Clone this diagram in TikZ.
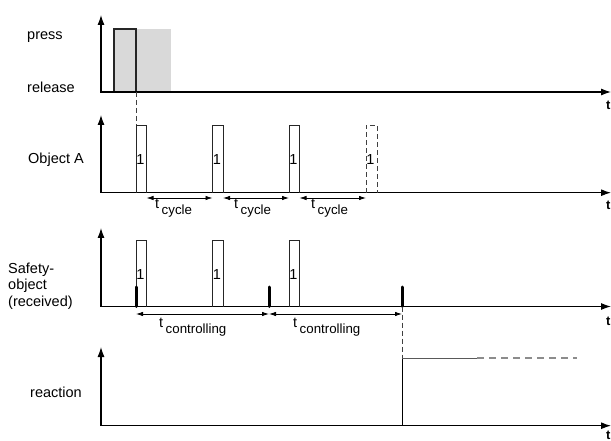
\documentclass[tikz,border=0pt]{standalone}
\usepackage{fontspec}
\setmainfont{Liberation Sans}
\usetikzlibrary{arrows.meta}

\newcommand{\tsub}[1]{t\hspace{2.5pt}\raisebox{-6pt}{\fontsize{13.3}{13.3}\selectfont #1}}

\begin{document}
\begin{tikzpicture}[x=1pt,y=-1pt,>={Latex[length=10pt,width=7pt]},
  font=\fontsize{14.5}{16.7}\selectfont,
  axis/.style={<->,line width=1.1pt},
  pulse/.style={draw=black!85,line width=0.9pt},
  ghost/.style={draw=black!75,line width=0.9pt,dash pattern=on 5pt off 3pt},
  span/.style={{Latex[length=7pt,width=4.5pt]}-{Latex[length=7pt,width=4.5pt]},line width=0.8pt},
  spike/.style={line width=3pt,line cap=round},
  digit/.style={inner sep=0pt},
  lbl/.style={inner sep=0pt,anchor=base west},
  tmark/.style={inner sep=0pt,anchor=west,font=\bfseries\fontsize{13}{13}\selectfont}]
\useasboundingbox (0,0) rectangle (611,441);

% press / release
\fill[black!15] (114,29) rectangle (171,92);
\draw[line width=1.8pt,black!85] (114,92) -- (114,29) -- (136,29) -- (136,92);
\coordinate (y1) at (101,15);
\coordinate (x1) at (611,92);
\draw[axis] (y1) |- (x1);
\node[lbl] (press) at (27,40) {press};
\node[lbl] (release) at (27,93) {release};
\node[tmark] (t1) at (606,105) {t};
\draw[ghost] (136,92) -- (136,125);

% object A
\coordinate (y2) at (101,115);
\coordinate (x2) at (611,192.7);
\draw[axis] (y2) |- (x2);
\node[lbl] (objA) at (28,164) {Object A};
\node[tmark] (t2) at (606,205) {t};
\foreach \x/\n in {136/a1,212.5/a2,289/a3} {
  \draw[pulse] (\x,192.7) -- (\x,125) -- ++(10.5,0) -- ++(0,67.7);
  \node[digit] (\n) at (\x+4.5,160) {1};
}
\draw[ghost] (366,192.7) -- (366,125) -- (377,125) -- (377,192.7);
\node[digit] (a4) at (370.5,160) {1};
\coordinate (c1) at (146.5,198);
\coordinate (c2) at (212.5,198);
\coordinate (c3) at (223,198);
\coordinate (c4) at (289,198);
\coordinate (c5) at (299.5,198);
\coordinate (c6) at (366,198);
\draw[span] (c1) -- (c2);
\draw[span] (c3) -- (c4);
\draw[span] (c5) -- (c6);
\node[lbl] (cyc1) at (155,208) {\tsub{cycle}};
\node[lbl] (cyc2) at (234,208) {\tsub{cycle}};
\node[lbl] (cyc3) at (311,208) {\tsub{cycle}};

% safety object
\coordinate (y3) at (101,228);
\coordinate (x3) at (611,306.5);
\draw[axis] (y3) |- (x3);
\node[inner sep=0pt,anchor=west,align=left] (safe) at (8,286) {Safety-\\object\\(received)};
\node[tmark] (t3) at (606,321) {t};
\foreach \x/\n in {136/s1,212.5/s2,289/s3} {
  \draw[pulse] (\x,306.5) -- (\x,240) -- ++(10.5,0) -- ++(0,66.5);
  \node[digit] (\n) at (\x+4.5,275) {1};
}
\foreach \x in {136,269,402}
  \draw[spike] (\x,287) -- (\x,306.5);
\coordinate (k1) at (136,314);
\coordinate (k2) at (269,314);
\coordinate (k3) at (402,314);
\draw[span] (k1) -- (k2);
\draw[span] (k2) -- (k3);
\node[lbl] (ctl1) at (159,327) {\tsub{controlling}};
\node[lbl] (ctl2) at (293,327) {\tsub{controlling}};
\draw[ghost] (402,306.5) -- (402,358);

% reaction
\coordinate (y4) at (101,347);
\coordinate (x4) at (611,425.7);
\draw[axis] (y4) |- (x4);
\node[lbl] (react) at (30,397) {reaction};
\node[tmark] (t4) at (606,435) {t};
\draw[line width=0.9pt] (402,425.7) -- (402,358);
\draw[line width=1pt,black!65] (402,358) -- (477,358);
\draw[line width=1.2pt,black!45,dash pattern=on 7pt off 5pt] (477,358) -- (577,358);
    %
\end{tikzpicture}
\end{document}
